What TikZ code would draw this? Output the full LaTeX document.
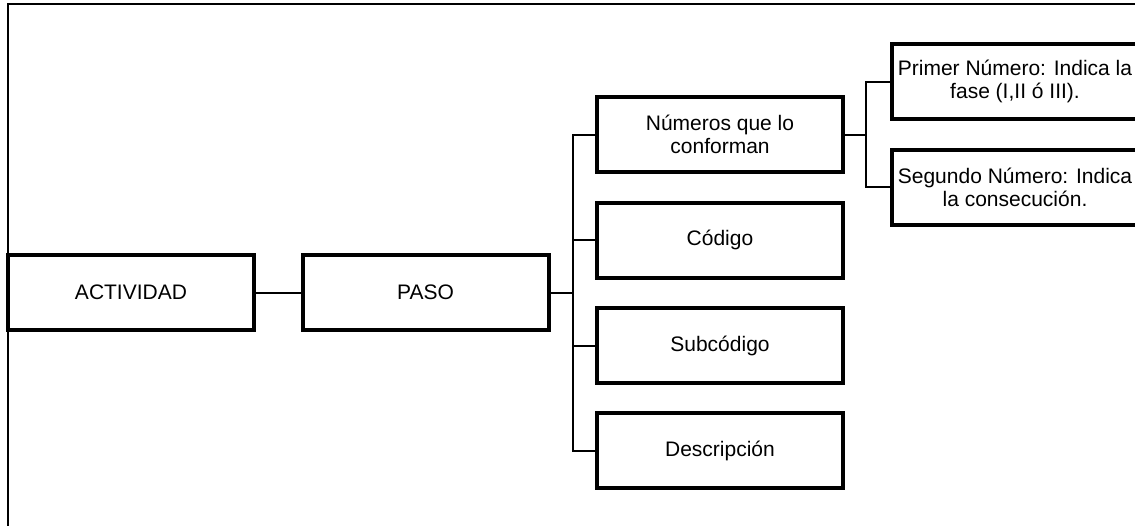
\documentclass[tikz,border=0pt]{standalone}
\usepackage{fontspec}
\setmainfont{Liberation Sans}
\begin{document}
\begin{tikzpicture}[x=1pt,y=-1pt,
  box/.style={draw=black,line width=4pt,fill=white,minimum width=246pt,
    minimum height=75pt,inner sep=0pt,align=center,
    font=\fontsize{21}{23}\selectfont},
  link/.style={draw=black,line width=2pt}]
\useasboundingbox (0,0) rectangle (1135,525);
% outer frame, running off the right and bottom edges
\draw[line width=2pt] (8,535) -- (8,4) -- (1145,4);
% main chain
\node[box] (act)  at (131,292.5) {ACTIVIDAD};
\node[box] (paso) at (425.5,292.5) {PASO};
% parts of a step
\node[box] (num)  at (720,134.5) {Números que lo\\conforman};
\node[box] (cod)  at (720,240) {Código};
\node[box] (sub)  at (720,345.5) {Subcódigo};
\node[box] (desc) at (720,450.5) {Descripción};
% meaning of the numbers
\node[box] (pri)  at (1015,81.5) {Primer Número: Indica la\\fase (I,II ó III).};
\node[box] (seg)  at (1015,187) {Segundo Número: Indica\\la consecución.};
% junction points
\coordinate (busA) at (573,292.5);
\coordinate (busB) at (866,134.5);
% connectors
\draw[link] (act.east) -- (paso.west);
\draw[link] (paso.east) -- (busA);
\draw[link] (busA) |- (num.west);
\draw[link] (busA) |- (cod.west);
\draw[link] (busA) |- (sub.west);
\draw[link] (busA) |- (desc.west);
\draw[link] (num.east) -- (busB);
\draw[link] (busB) |- (pri.west);
\draw[link] (busB) |- (seg.west);
\end{tikzpicture}
\end{document}
